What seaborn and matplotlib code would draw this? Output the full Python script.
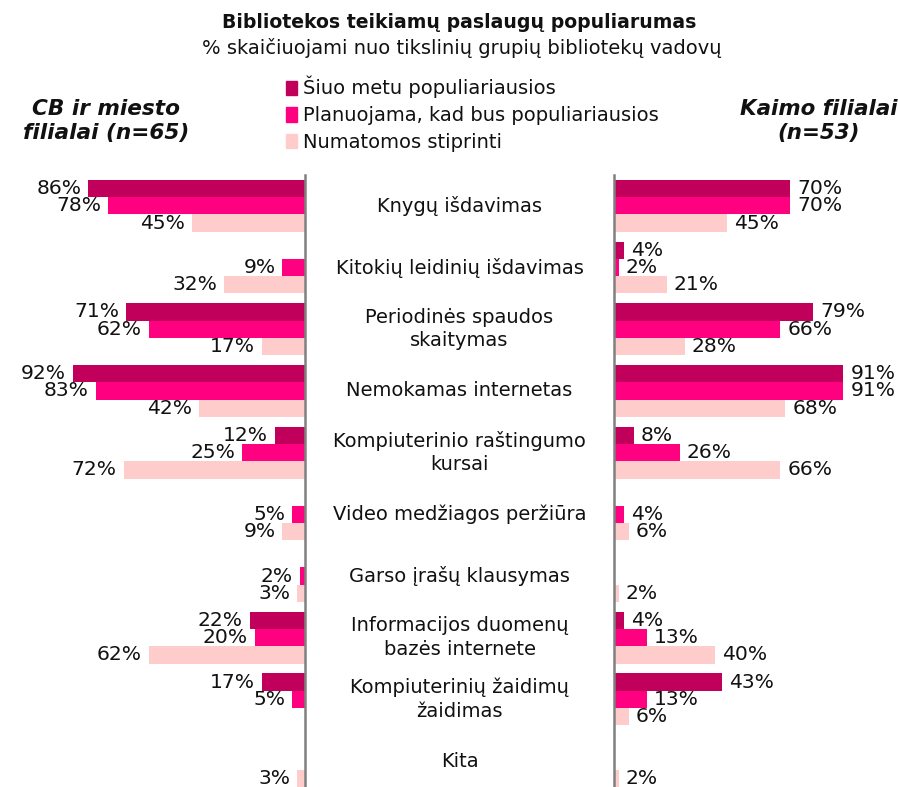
import pandas as pd
import matplotlib
matplotlib.use("Agg")
import matplotlib.pyplot as plt
import matplotlib.patches as mpatches
import seaborn as sns

categorijos = ["Knygų išdavimas", "Kitokių leidinių išdavimas", "Periodinės spaudos\nskaitymas",
               "Nemokamas internetas", "Kompiuterinio raštingumo\nkursai", "Video medžiagos peržiūra",
               "Garso įrašų klausymas", "Informacijos duomenų\nbazės internete",
               "Kompiuterinių žaidimų\nžaidimas", "Kita"]
serijos = ["Šiuo metu populiariausios", "Planuojama, kad bus populiariausios", "Numatomos stiprinti"]
spalvos = ["#C0005A", "#FF0080", "#FFCCCC"]

# CB ir miesto filialai (n=65), 0 = nėra stulpelio
cb_dabar = [86, 0, 71, 92, 12, 0, 0, 22, 17, 0]
cb_planuojama = [78, 9, 62, 83, 25, 5, 2, 20, 5, 0]
cb_stiprinti = [45, 32, 17, 42, 72, 9, 3, 62, 0, 3]

# Kaimo filialai (n=53)
kaimo_dabar = [70, 4, 79, 91, 8, 0, 0, 4, 43, 0]
kaimo_planuojama = [70, 2, 66, 91, 26, 4, 0, 13, 13, 0]
kaimo_stiprinti = [45, 21, 28, 68, 66, 6, 2, 40, 6, 2]


def i_ilga_forma(dabar, planuojama, stiprinti):
    eilutes = []
    for reiksmes, serija in zip([dabar, planuojama, stiprinti], serijos):
        for kat, v in zip(categorijos, reiksmes):
            eilutes.append({"Kategorija": kat, "Serija": serija, "Reiksme": v})
    return pd.DataFrame(eilutes)


sns.set_style("white")
plt.rcParams['font.family'] = ['DejaVu Sans']
plt.rcParams['text.color'] = '#111111'

W, H = 898, 787
fig = plt.figure(figsize=(W / 100, H / 100), dpi=100)

px_per_proc = 2.52
virsus = 1 - 175 / H
ax_l = fig.add_axes([0, 0, 305 / W, virsus])
ax_r = fig.add_axes([614 / W, 0, (W - 614) / W, virsus])

for ax, df, xmax, puse in [(ax_l, i_ilga_forma(cb_dabar, cb_planuojama, cb_stiprinti), 305 / px_per_proc, "l"),
                           (ax_r, i_ilga_forma(kaimo_dabar, kaimo_planuojama, kaimo_stiprinti), (W - 614) / px_per_proc, "r")]:
    sns.barplot(data=df, y="Kategorija", x="Reiksme", hue="Serija", orient="h",
                hue_order=serijos, order=categorijos, palette=spalvos, saturation=1,
                width=0.84, legend=False, linewidth=0, edgecolor="none", ax=ax)
    ax.set_ylim(9.42, -0.5)
    if puse == "l":
        ax.set_xlim(xmax, 0)
    else:
        ax.set_xlim(0, xmax)
    for cont in ax.containers:
        zymes = [f"{v:.0f}%" if v > 0 else "" for v in cont.datavalues]
        ax.bar_label(cont, labels=zymes, padding=5, fontsize=14.6, color="#111111")
    ax.set_xticks([])
    ax.set_yticks([])
    ax.set_xlabel("")
    ax.set_ylabel("")
    for s in ax.spines.values():
        s.set_visible(False)
    sp = ax.spines["right"] if puse == "l" else ax.spines["left"]
    sp.set_visible(True)
    sp.set_color("#808080")
    sp.set_linewidth(1.8)

# kategoriju pavadinimai per viduri
for i, kat in enumerate(categorijos):
    ax_r.annotate(kat, xy=(459.5 / W, i), xycoords=("figure fraction", "data"),
                  ha="center", va="center", fontsize=14,
                  multialignment="center", linespacing=1.3, annotation_clip=False)

fig.text(459.5 / W, 1 - 22 / H, "Bibliotekos teikiamų paslaugų populiarumas",
         ha="center", va="center", fontsize=13.6, fontweight="bold")
fig.text(462 / W, 1 - 48 / H, "% skaičiuojami nuo tikslinių grupių bibliotekų vadovų",
         ha="center", va="center", fontsize=14)

fig.text(106 / W, 1 - 121 / H, "CB ir miesto\nfilialai (n=65)", ha="center", va="center",
         fontsize=15.6, fontweight="bold", fontstyle="italic", linespacing=1.3)
fig.text(819 / W, 1 - 121 / H, "Kaimo filialai\n(n=53)", ha="center", va="center",
         fontsize=15.4, fontweight="bold", fontstyle="italic", linespacing=1.3)

rankenos = [mpatches.Patch(color=c, label=s) for c, s in zip(spalvos, serijos)]
fig.legend(handles=rankenos, loc="upper left", bbox_to_anchor=(286 / W, 1 - 76 / H),
           frameon=False, fontsize=14, handlelength=0.55, handleheight=0.75,
           handletextpad=0.3, labelspacing=0.4, borderaxespad=0, borderpad=0)

fig.savefig("out.png", dpi=100)
